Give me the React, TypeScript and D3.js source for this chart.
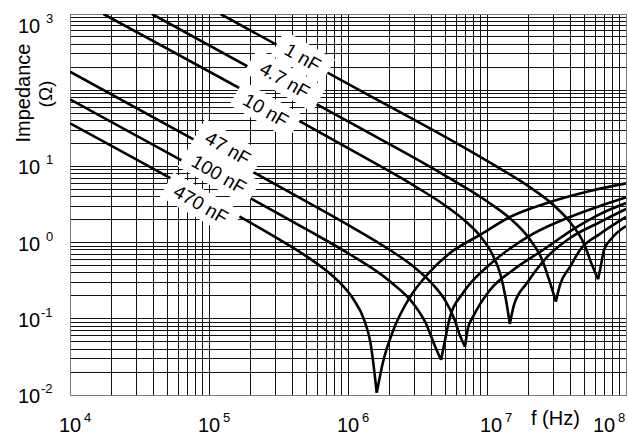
import { useRef, useEffect } from 'react';
import * as d3 from 'd3';

// values: frequency (Hz) and impedance (Ohm) per capacitor
const f1nF = [1.21e5, 1e6, 1e7, 2e7, 3e7, 4e7, 5e7, 5.7e7, 6.3e7, 6.61e7, 6.944e7, 7.93e7, 1e8];
const z1nF = [1000, 121, 11.8, 5.44, 3.12, 1.81, 0.955, 0.507, 0.33, 0.508, 0.8, 1.15, 1.65];

const f4n7F = [3.89e4, 1e6, 5e6, 1e7, 1.5e7, 2e7, 2.5e7, 2.8e7, 3.13e7, 3.352e7, 3.955e7, 4.668e7, 6.5e7, 1e8];
const z4n7F = [1000, 38.86, 7.58, 3.49, 2.0, 1.15, 0.588, 0.324, 0.168, 0.278, 0.479, 0.8, 1.3, 2.17];

const f10nF = [1.74e4, 1e6, 3e6, 5e6, 7e6, 9e6, 1.1e7, 1.25e7, 1.36e7, 1.46e7, 1.564e7, 1.94e7, 2.702e7, 3.955e7, 6.5e7, 1e8];
const z10nF = [1000, 17.32, 5.56, 3.07, 1.91, 1.2, 0.684, 0.381, 0.19, 0.0855, 0.152, 0.295, 0.647, 1.15, 1.86, 2.76];

const f47nF = [1e4, 1e5, 5e5, 1e6, 2e6, 3e6, 4e6, 5e6, 5.8e6, 6.4e6, 6.95e6, 7.3e6, 7.93e6, 1.051e7, 1.539e7, 2.529e7, 4.297e7, 6.5e7, 1e8];
const z47nF = [175, 17.5, 3.48, 1.71, 0.8, 0.475, 0.293, 0.174, 0.101, 0.06, 0.043, 0.0757, 0.106, 0.239, 0.437, 0.8, 1.55, 2.37, 3.31];

const f100nF = [1e4, 1e5, 5e5, 1e6, 2e6, 3e6, 3.6e6, 4.2e6, 4.67e6, 4.99e6, 5.42e6, 6.72e6, 1e7, 1.24e7, 2.14e7, 3.955e7, 6.5e7, 1e8];
const z100nF = [76, 7.6, 1.5, 0.725, 0.31, 0.152, 0.09, 0.045, 0.0288, 0.0527, 0.106, 0.218, 0.479, 0.667, 1.3, 2.17, 3.02, 3.91];

const f470nF = [1e4, 1e5, 3e5, 5e5, 7e5, 9e5, 1.1e6, 1.3e6, 1.45e6, 1.61e6, 1.786e6, 2.107e6, 2.793e6, 3.701e6, 5.418e6, 8.905e6, 1.464e7, 2.84e7, 5.51e7, 1e8];
const z470nF = [36.8, 3.67, 1.18, 0.665, 0.426, 0.281, 0.178, 0.099, 0.049, 0.0107, 0.0271, 0.0692, 0.193, 0.376, 0.73, 1.26, 2.17, 3.41, 4.76, 6.0];

// curve labels and where they sit (f, Z of the label centre)
const labelText = ['1 nF', '4.7 nF', '10 nF', '47 nF', '100 nF', '470 nF'];
const labelF = [4.74e5, 3.52e5, 2.57e5, 1.37e5, 1.18e5, 8.76e4];
const labelZ = [272, 136, 55, 17.4, 7.94, 3.21];

const xExp = [4, 5, 6, 7, 8];
const yExp = [-2, -1, 0, 1, 3];

const series = [
  [f1nF, z1nF], [f4n7F, z4n7F], [f10nF, z10nF],
  [f47nF, z47nF], [f100nF, z100nF], [f470nF, z470nF],
];

const App = () => {
  const svgRef = useRef(null);
  const W = 628;
  const H = 437;
  const plot = { left: 70, right: 626, top: 14, bottom: 395 };
  const font = '"Liberation Sans", Arial, Helvetica, sans-serif';

  useEffect(() => {
    const svg = d3.select(svgRef.current);
    svg.selectAll('*').remove();

    const x = d3.scaleLog().domain([1e4, 1e8]).range([plot.left, plot.right]);
    const y = d3.scaleLog().domain([1e-2, 1e3]).range([plot.bottom, plot.top]);

    svg.append('defs').append('clipPath').attr('id', 'plotclip')
      .append('rect')
      .attr('x', plot.left).attr('y', plot.top)
      .attr('width', plot.right - plot.left).attr('height', plot.bottom - plot.top);

    //grade
    const xGrid: number[] = [];
    for (let d = 4; d < 8; d++) for (let m = 1; m < 10; m++) xGrid.push(m * Math.pow(10, d));
    xGrid.push(1e8);
    const yGrid: number[] = [];
    for (let d = -2; d < 3; d++) for (let m = 1; m < 10; m++) yGrid.push(m * Math.pow(10, d));
    yGrid.push(1e3);

    const grid = svg.append('g').attr('shape-rendering', 'crispEdges');
    grid.selectAll('.vx').data(xGrid).join('line')
      .attr('x1', (d) => x(d)).attr('x2', (d) => x(d))
      .attr('y1', plot.top).attr('y2', plot.bottom)
      .attr('stroke', '#111').attr('stroke-width', 1);
    grid.selectAll('.hy').data(yGrid).join('line')
      .attr('class', 'hy')
      .attr('y1', (d) => y(d)).attr('y2', (d) => y(d))
      .attr('x1', plot.left).attr('x2', plot.right)
      .attr('stroke', '#111').attr('stroke-width', 1);

    svg.append('rect')
      .attr('x', plot.left).attr('y', plot.top)
      .attr('width', plot.right - plot.left).attr('height', plot.bottom - plot.top)
      .attr('fill', 'none').attr('stroke', '#777').attr('stroke-width', 1)
      .attr('shape-rendering', 'crispEdges');

    //curvas, cada uma em dois ramos (antes e depois da ressonancia)
    const line = d3.line<[number, number]>()
      .x((d) => x(d[0])).y((d) => y(d[1]))
      .curve(d3.curveMonotoneX);

    const curves = svg.append('g').attr('clip-path', 'url(#plotclip)');
    series.forEach(([fs, zs]) => {
      const pts = fs.map((f, i) => [f, zs[i]] as [number, number]);
      const iMin = d3.minIndex(zs);
      [pts.slice(0, iMin + 1), pts.slice(iMin)].forEach((branch) => {
        curves.append('path')
          .attr('d', line(branch))
          .attr('fill', 'none')
          .attr('stroke', '#000')
          .attr('stroke-width', 2.6)
          .attr('stroke-linejoin', 'round');
      });
    });

    //rotulos com caixa branca
    const labels = svg.append('g');
    labelText.forEach((t, i) => {
      const g = labels.append('g')
        .attr('transform', `translate(${x(labelF[i])},${y(labelZ[i])}) rotate(30)`);
      const w = t.length * 10.5 + 16;
      g.append('rect')
        .attr('x', -w / 2).attr('y', -14)
        .attr('width', w).attr('height', 28)
        .attr('fill', '#fff');
      g.append('text')
        .attr('text-anchor', 'middle').attr('dy', '0.36em')
        .attr('font-family', font).attr('font-size', 19)
        .text(t);
    });

    //eixo X
    const xNudge = [0, 0, 0, 4, -22];
    xExp.forEach((e, i) => {
      const cx = x(Math.pow(10, e)) + xNudge[i];
      svg.append('text')
        .attr('x', cx).attr('y', 432)
        .attr('text-anchor', 'middle')
        .attr('font-family', font).attr('font-size', 20)
        .text('10');
      svg.append('text')
        .attr('x', cx + 14).attr('y', 422)
        .attr('font-family', font).attr('font-size', 13)
        .text(String(e));
    });
    svg.append('text')
      .attr('x', 531).attr('y', 425)
      .attr('font-family', font).attr('font-size', 20)
      .text('f (Hz)');

    //eixo Y
    yExp.forEach((e) => {
      const ty = e === 3 ? y(1e3) + 11 : y(Math.pow(10, e));
      svg.append('text')
        .attr('x', 18).attr('y', ty + 8)
        .attr('font-family', font).attr('font-size', 20)
        .text('10');
      svg.append('text')
        .attr('x', e < 0 ? 41 : 46).attr('y', ty - 2)
        .attr('font-family', font).attr('font-size', 13)
        .text(String(e));
    });
    svg.append('text')
      .attr('transform', 'translate(30,93) rotate(-90)')
      .attr('text-anchor', 'middle')
      .attr('font-family', font).attr('font-size', 20)
      .text('Impedance');
    svg.append('text')
      .attr('transform', 'translate(52,94) rotate(-90)')
      .attr('text-anchor', 'middle')
      .attr('font-family', font).attr('font-size', 19)
      .text('(Ω)');
  }, []);

  return (
    <svg
      ref={svgRef}
      width={W}
      height={H}
      style={{ position: 'absolute', left: 0, top: 0, background: '#fff', display: 'block' }}
    ></svg>
  );
};

export default App;
